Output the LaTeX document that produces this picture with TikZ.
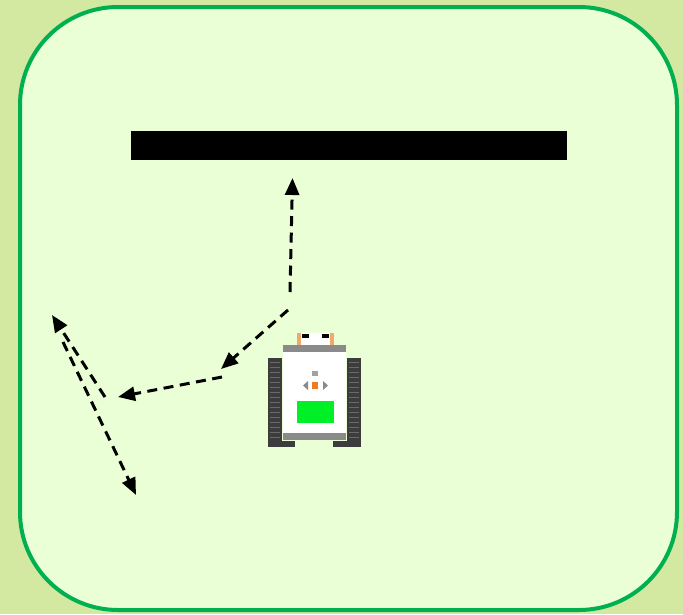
\documentclass[tikz,border=0pt]{standalone}
\usetikzlibrary{arrows.meta}
\definecolor{pagebg}{HTML}{D3E8A0}
\definecolor{fieldbg}{HTML}{EAFFD5}
\definecolor{fieldline}{HTML}{00B050}
\definecolor{trackdark}{HTML}{3C3C3C}
\definecolor{trackline}{HTML}{6A6A6A}
\definecolor{framegray}{HTML}{8A8A8A}
\definecolor{ledgreen}{HTML}{00F028}
\definecolor{accent}{HTML}{F07A20}
\definecolor{skin}{HTML}{F0A870}
\tikzset{
  path/.style={line width=3pt, dash pattern=on 10pt off 6.5pt,
    -{Triangle[length=17pt,width=14pt]}},
}
\begin{document}
\begin{tikzpicture}[x=1pt,y=-1pt]
  % page and field
  \fill[pagebg] (0,0) rectangle (683,614);
  \useasboundingbox (0,0) rectangle (683,614);
  \draw[fieldline, fill=fieldbg, line width=4pt, rounded corners=98pt]
    (20,7) rectangle (677,610);
  % wall
  \fill[black] (131,131) rectangle (567,160);

  % path waypoints
  \coordinate (a1) at (290,292); \coordinate (a2) at (292.5,178);
  \coordinate (b1) at (288,310); \coordinate (b2) at (221,369);
  \coordinate (c1) at (222,377); \coordinate (c2) at (118,397);
  \coordinate (d1) at (105,397); \coordinate (d2) at (52,315);
  \coordinate (e1) at (63,342);  \coordinate (e2) at (136,495);
  \draw[path] (a1) -- (a2);
  \draw[path] (b1) -- (b2);
  \draw[path] (c1) -- (c2);
  \draw[path] (d1) -- (d2);
  \draw[path] (e1) -- (e2);

  % robot: tracks
  \fill[trackdark] (268,358) rectangle (282,447);
  \fill[trackdark] (347,358) rectangle (361,447);
  \fill[trackdark] (268,441) rectangle (295,447);
  \fill[trackdark] (333,441) rectangle (361,447);
  \foreach \yy in {362,367,...,440} {
    \draw[trackline, line width=0.8pt] (270,\yy) -- (280,\yy);
    \draw[trackline, line width=0.8pt] (349,\yy) -- (359,\yy);
  }
  % robot: body
  \fill[white] (283,350) rectangle (346,436);
  \fill[framegray] (283,345) rectangle (346,352);
  \fill[framegray] (283,433) rectangle (346,440);
  % robot: head
  \fill[white] (297,333) rectangle (334,345);
  \fill[skin] (297,333) rectangle (301,345);
  \fill[skin] (330,333) rectangle (334,345);
  \fill[black] (302,334) rectangle (309,338);
  \fill[black] (322,334) rectangle (329,338);
  % robot: control buttons
  \fill[framegray!80] (312,371) rectangle (318,376);
  \fill[accent] (312,382) rectangle (318,389);
  \fill[framegray] (303,385.5) -- (308,381) -- (308,390) -- cycle;
  \fill[framegray] (328,385.5) -- (323,381) -- (323,390) -- cycle;
  % robot: display
  \fill[ledgreen] (297,401) rectangle (334,423);
\end{tikzpicture}
\end{document}
